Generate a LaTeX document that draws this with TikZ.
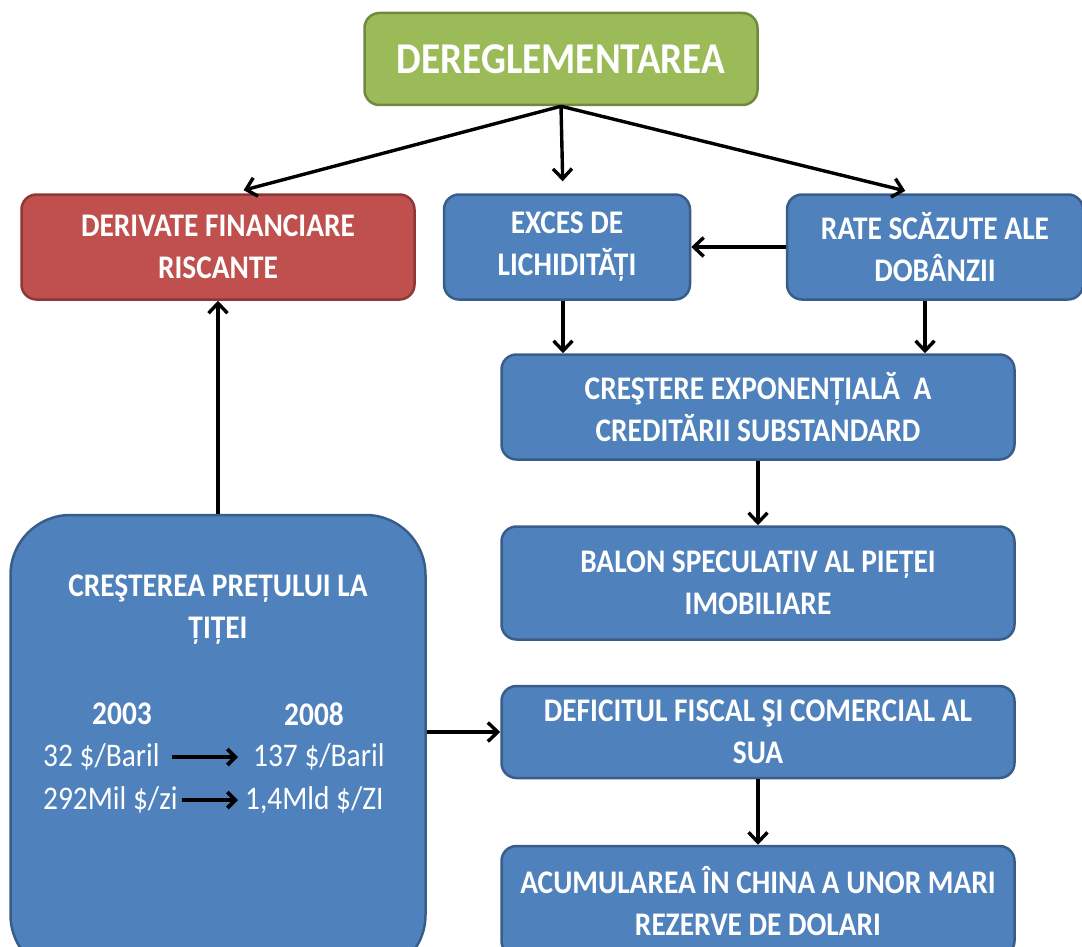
\documentclass[tikz,border=0pt]{standalone}
\usepackage{fontspec}
\setmainfont{Carlito}[FakeStretch=0.89]
\usetikzlibrary{arrows.meta}
\definecolor{gfill}{HTML}{9BBB59}
\definecolor{gdraw}{HTML}{71893F}
\definecolor{rfill}{HTML}{C0504D}
\definecolor{rdraw}{HTML}{8C3836}
\definecolor{bfill}{HTML}{4F81BD}
\definecolor{bdraw}{HTML}{385D8A}
\tikzset{
  box/.style={rounded corners=15pt, line width=2.5pt, text=white, align=center,
    font=\bfseries\fontsize{33}{42}\selectfont, inner sep=0pt},
  bluebox/.style={box, fill=bfill, draw=bdraw},
  conn/.style={line width=3.4pt, -{Straight Barb[length=10pt,width=19pt,line width=3.4pt]}},
  inarrow/.style={line width=3.8pt, -{Straight Barb[length=8pt,width=16pt,line width=3.8pt]}},
  txt/.style={text=white, inner sep=0pt, font=\fontsize{33}{42}\selectfont},
}
\begin{document}
\begin{tikzpicture}[x=1pt,y=-1pt]
\useasboundingbox (0,0) rectangle (1082,947);
\clip (0,0) rectangle (1082,947);
% nodes
\node[box, fill=gfill, draw=gdraw, minimum width=393pt, minimum height=92pt,
  font=\bfseries\fontsize{44}{50}\selectfont] (top) at (561,59) {DEREGLEMENTAREA};
\node[box, fill=rfill, draw=rdraw, minimum width=393pt, minimum height=105pt] (red) at (218,247)
  {DERIVATE FINANCIARE\\RISCANTE};
\node[bluebox, minimum width=246pt, minimum height=105pt] (exces) at (567,247)
  {EXCES DE\\LICHIDITĂȚI};
\node[bluebox, minimum width=296pt, minimum height=105pt] (rate) at (935,247)
  {RATE SCĂZUTE ALE\\DOBÂNZII};
\node[bluebox, minimum width=513pt, minimum height=105pt] (cre) at (758,407)
  {CREŞTERE EXPONENȚIALĂ~~A\\CREDITĂRII SUBSTANDARD};
\node[bluebox, minimum width=513pt, minimum height=113pt] (balon) at (758,583)
  {BALON SPECULATIV AL PIEȚEI\\IMOBILIARE};
\node[bluebox, minimum width=513pt, minimum height=92pt] (def) at (758,732)
  {DEFICITUL FISCAL ŞI COMERCIAL AL\\SUA};
\node[bluebox, minimum width=513pt, minimum height=110pt] (acu) at (758,901)
  {ACUMULAREA ÎN CHINA A UNOR MARI\\REZERVE DE DOLARI};
\node[bluebox, rounded corners=60pt, minimum width=415pt, minimum height=460pt] (big) at (218,745) {};
% texts inside big box
\node[txt, font=\bfseries\fontsize{33}{42}\selectfont, align=center] (title) at (218,610)
  {CREŞTEREA PREȚULUI LA\\ȚIȚEI};
\node[txt, font=\bfseries\fontsize{33}{42}\selectfont] (y1) at (122,714) {2003};
\node[txt, font=\bfseries\fontsize{33}{42}\selectfont] (y2) at (314,714) {2008};
\node[txt, anchor=west] (p1) at (43,757) {32 \$/Baril};
\node[txt, anchor=west] (p2) at (253,757) {137 \$/Baril};
\node[txt, anchor=west] (q1) at (43,800) {292Mil \$/zi};
\node[txt, anchor=west] (q2) at (245,800) {1,4Mld \$/ZI};
\draw[inarrow, shorten <=12pt, shorten >=15pt] (p1.east) -- (p2.west);
\draw[inarrow, shorten <=4pt, shorten >=7pt] (q1.east) -- (q2.west);
% connectors
\draw[conn, shorten >=12pt] (top.south) -- ([xshift=14pt]red.north);
\draw[conn, shorten >=12pt] (top.south) -- ([xshift=-4pt]exces.north);
\draw[conn, shorten >=10pt] (top.south) -- ([xshift=-20pt]rate.north);
\draw[conn] (rate.west) -- (exces.east);
\draw[conn] ([xshift=-4pt]exces.south) -- ([xshift=-195pt]cre.north);
\draw[conn] ([xshift=-10pt]rate.south) -- ([xshift=167pt]cre.north);
\draw[conn] (cre.south) -- (balon.north);
\draw[conn] (big.north) -- (red.south);
\draw[conn] (big.east |- def.west) -- (def.west);
\draw[conn] (def.south) -- (acu.north);
\end{tikzpicture}
\end{document}
